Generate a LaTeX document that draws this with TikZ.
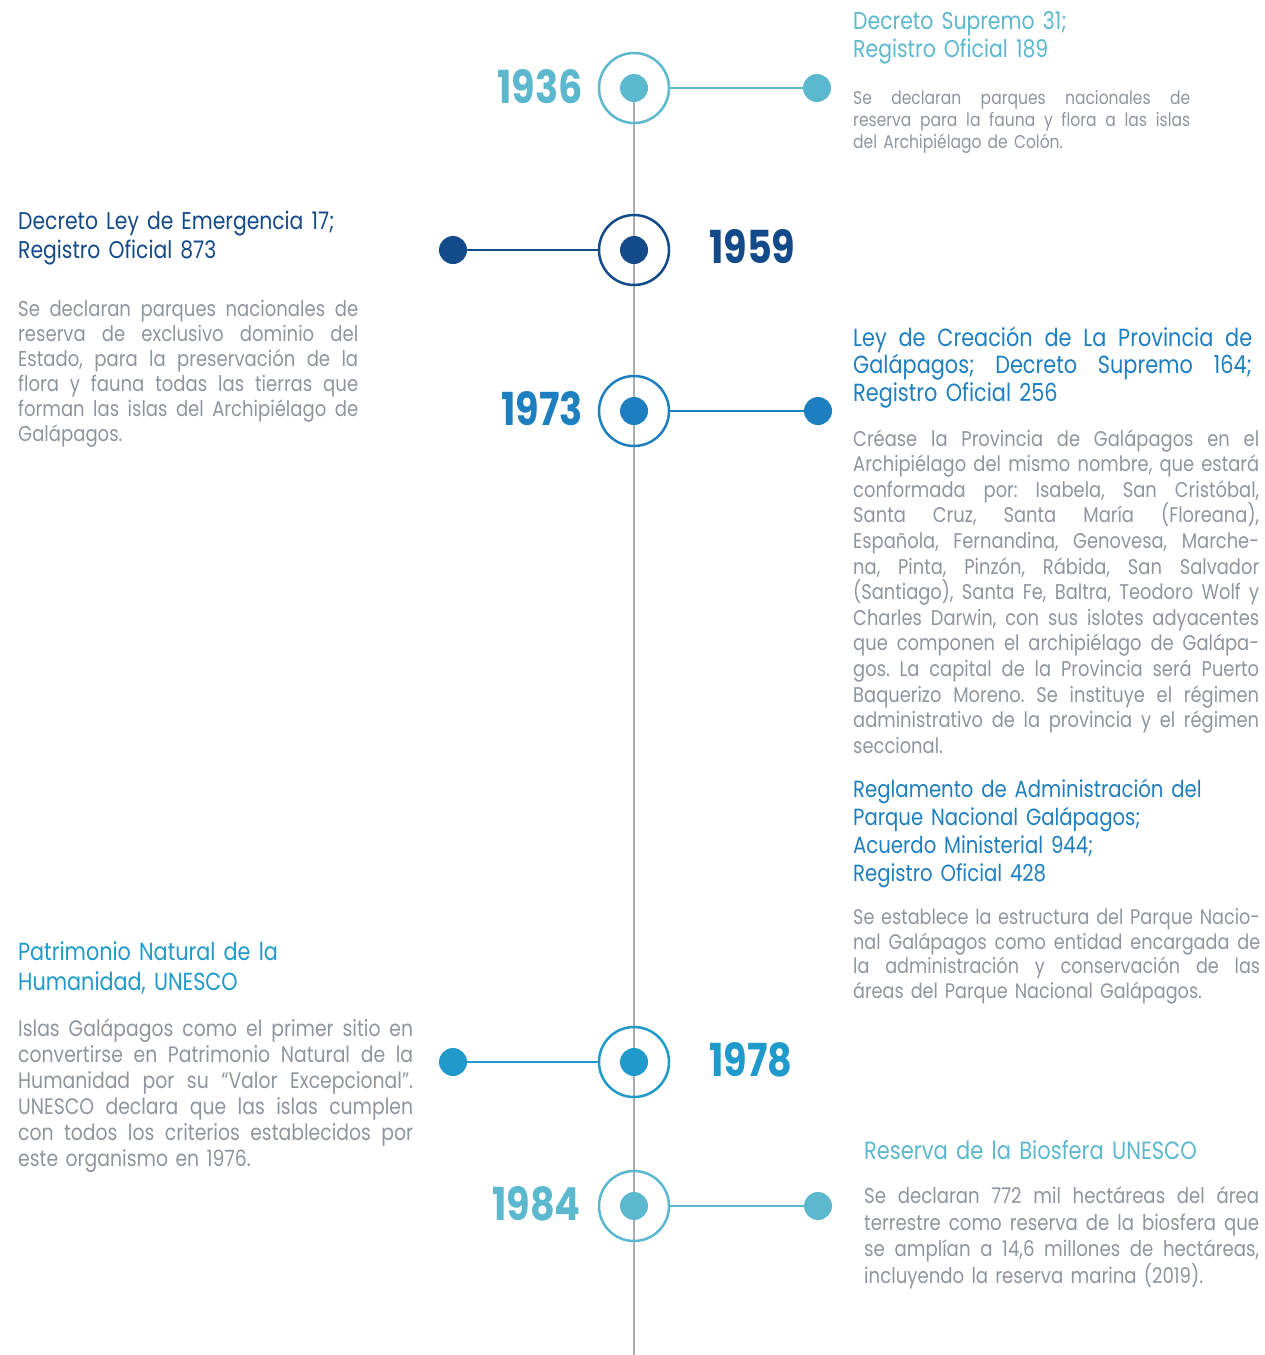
\documentclass[tikz,border=0pt]{standalone}
\usepackage{fontspec}
\setmainfont{Poppins}[FakeStretch=0.84]
\definecolor{cA}{HTML}{5BB8CE}
\definecolor{cB}{HTML}{134A89}
\definecolor{cC}{HTML}{1E7FC0}
\definecolor{cD}{HTML}{1F9ACA}
\definecolor{txt}{HTML}{8F959C}
\definecolor{spine}{HTML}{A9ADB3}
\frenchspacing
\newcommand\J[1]{\makebox[\linewidth][s]{\frenchspacing\spaceskip=0pt\xspaceskip=0pt\relax #1}\\}
\begin{document}
\begin{tikzpicture}[x=1pt,y=-1pt,
  ring/.style={circle,minimum size=70pt,inner sep=0pt,line width=2.5pt,draw=#1},
  dot/.style={circle,minimum size=28pt,inner sep=0pt,fill=#1},
  conn/.style={line width=2.5pt,draw=#1},
  year/.style={font=\fontsize{45.5}{46}\selectfont\bfseries,text=#1,inner sep=0pt},
  head/.style={anchor=base west,inner sep=0pt,text width=420pt,align=left,text=#1},
  body/.style={anchor=base west,inner sep=0pt,text width=#1,align=left,text=txt},
]
\useasboundingbox (0,0) rectangle (1265,1355);
% spine
\coordinate (c1936) at (634,88);
\coordinate (bottom) at (634,1355);
\draw[line width=2pt,spine] (c1936) -- (bottom);

% 1936
\node[ring=cA] (r1936) at (634,88) {};
\node[dot=cA] (d1936) at (634,88) {};
\node[dot=cA] (s1936) at (817,88) {};
\draw[conn=cA] (r1936) -- (s1936);
\node[year=cA,anchor=base east] (y1936) at (583,103) {1936};
\node[head=cA,font=\fontsize{24.3}{27.5}\selectfont] (h1936) at (853,29.5)
  {Decreto Supremo 31;\\Registro Oficial 189};
\node[body=337pt,font=\fontsize{18.5}{22}\selectfont] (b1936) at (853,104)
  {\J{Se declaran parques nacionales de}\J{reserva para la fauna y flora a las islas}del Archipiélago de Colón.};

% 1959
\node[ring=cB] (r1959) at (634,250) {};
\node[dot=cB] (d1959) at (634,250) {};
\node[dot=cB] (s1959) at (453,250) {};
\draw[conn=cB] (r1959) -- (s1959);
\node[year=cB,anchor=base west] (y1959) at (709,263.5) {1959};
\node[head=cB,font=\fontsize{24.2}{29}\selectfont] (h1959) at (18,229)
  {Decreto Ley de Emergencia 17;\\Registro Oficial 873};
\node[body=340pt,font=\fontsize{21.5}{25}\selectfont] (b1959) at (18,316)
  {\J{Se declaran parques nacionales de}\J{reserva de exclusivo dominio del}\J{Estado, para la preservación de la}\J{flora y fauna todas las tierras que}\J{forman las islas del Archipiélago de}Galápagos.};

% 1973
\node[ring=cC] (r1973) at (634,411) {};
\node[dot=cC] (d1973) at (634,411) {};
\node[dot=cC] (s1973) at (818,411) {};
\draw[conn=cC] (r1973) -- (s1973);
\node[year=cC,anchor=base east] (y1973) at (583,425.5) {1973};
\node[head=cC,text width=399pt,font=\fontsize{24.8}{27.5}\selectfont] (h1973) at (853,346)
  {\J{Ley de Creación de La Provincia de}\J{Galápagos; Decreto Supremo 164;}Registro Oficial 256};
\node[body=406pt,font=\fontsize{21.3}{25.6}\selectfont] (b1973) at (853,446)
  {\J{Créase la Provincia de Galápagos en el}\J{Archipiélago del mismo nombre, que estará}\J{conformada por: Isabela, San Cristóbal,}\J{Santa Cruz, Santa María (Floreana),}\J{Española, Fernandina, Genovesa, Marche-}\J{na, Pinta, Pinzón, Rábida, San Salvador}\J{(Santiago), Santa Fe, Baltra, Teodoro Wolf y}\J{Charles Darwin, con sus islotes adyacentes}\J{que componen el archipiélago de Galápa-}\J{gos. La capital de la Provincia será Puerto}\J{Baquerizo Moreno. Se instituye el régimen}\J{administrativo de la provincia y el régimen}seccional.};

% Reglamento
\node[head=cC,font=\fontsize{23.4}{28}\selectfont] (hreg) at (853,797)
  {Reglamento de Administración del\\Parque Nacional Galápagos;\\Acuerdo Ministerial 944;\\Registro Oficial 428};
\node[body=407pt,font=\fontsize{21}{24.7}\selectfont] (breg) at (853,924.5)
  {\J{Se establece la estructura del Parque Nacio-}\J{nal Galápagos como entidad encargada de}\J{la administración y conservación de las}áreas del Parque Nacional Galápagos.};

% 1978
\node[ring=cD] (r1978) at (634,1062) {};
\node[dot=cD] (d1978) at (634,1062) {};
\node[dot=cD] (s1978) at (453,1062) {};
\draw[conn=cD] (r1978) -- (s1978);
\node[year=cD,anchor=base west] (y1978) at (709,1076) {1978};
\node[head=cD,font=\fontsize{24.7}{29.5}\selectfont] (h1978) at (18,960.5)
  {Patrimonio Natural de la\\Humanidad, UNESCO};
\node[body=395pt,font=\fontsize{22.4}{26.1}\selectfont] (b1978) at (18,1036)
  {\J{Islas Galápagos como el primer sitio en}\J{convertirse en Patrimonio Natural de la}\J{Humanidad por su “Valor Excepcional”.}\J{UNESCO declara que las islas cumplen}\J{con todos los criterios establecidos por}este organismo en 1976.};

% 1984
\node[ring=cA] (r1984) at (634,1206) {};
\node[dot=cA] (d1984) at (634,1206) {};
\node[dot=cA] (s1984) at (818,1206) {};
\draw[conn=cA] (r1984) -- (s1984);
\node[year=cA,anchor=base east] (y1984) at (581,1220.5) {1984};
\node[head=cA,font=\fontsize{25}{28}\selectfont] (h1984) at (864,1159.5)
  {Reserva de la Biosfera UNESCO};
\node[body=395pt,font=\fontsize{21.6}{26.7}\selectfont] (b1984) at (864,1203.5)
  {\J{Se declaran 772 mil hectáreas del área}\J{terrestre como reserva de la biosfera que}\J{se amplían a 14,6 millones de hectáreas,}incluyendo la reserva marina (2019).};
\end{tikzpicture}
\end{document}
